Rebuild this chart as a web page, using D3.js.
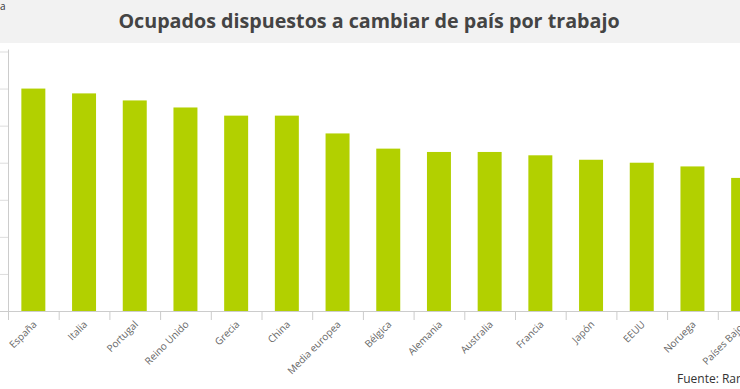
<!DOCTYPE html>
<html>
<head>
<meta charset="utf-8">
<script src="https://cdn.jsdelivr.net/npm/d3@7"></script>
<style>
  html, body { margin: 0; padding: 0; background: #fff; }
  svg { display: block; font-family: "Open Sans", sans-serif; }
</style>
</head>
<body>
<svg id="chart" width="740" height="389"></svg>
<script>
const countries = ["España", "Italia", "Portugal", "Reino Unido", "Grecia", "China", "Media europea",
    "Bélgica", "Alemania", "Australia", "Francia", "Japón", "EEUU", "Noruega", "Países Bajos"];
const values = [60.0, 58.7, 56.8, 54.9, 52.7, 52.7, 47.9, 43.8, 42.9, 42.9, 42.0, 40.8, 40.0, 39.0, 35.9];
const yTicks = [0, 10, 20, 30, 40, 50, 60, 70];

const svg = d3.select("#chart");
const width = +svg.attr("width");
const height = +svg.attr("height");

// header band
svg.append("rect")
    .attr("width", width)
    .attr("height", 43)
    .attr("fill", "#f2f2f2");

svg.append("text")
    .attr("x", 369)
    .attr("y", 28)
    .attr("text-anchor", "middle")
    .attr("font-size", 19.7)
    .attr("font-weight", "bold")
    .attr("fill", "#444")
    .text("Ocupados dispuestos a cambiar de país por trabajo");

// leftover of the cut y-axis title
svg.append("text")
    .attr("x", 0)
    .attr("y", 10)
    .attr("font-size", 10)
    .attr("fill", "#333")
    .text("a");

const x = d3.scaleBand()
    .domain(countries)
    .range([8, 8 + 50.7 * countries.length])
    .paddingInner(0.527)
    .paddingOuter(0.2635);

const y = d3.scaleLinear()
    .domain([0, 70])
    .range([311, 51.5]);

// y axis: line and ticks only (labels are cut off in the original)
const yAxis = svg.append("g")
    .attr("transform", "translate(8,0)")
    .call(d3.axisLeft(y).tickValues(yTicks).tickSize(8).tickFormat(""));
yAxis.select(".domain").attr("stroke", "#ccc").attr("d", `M0.5,${y(70) - 2}V${y(0)}`);
yAxis.selectAll(".tick line").attr("stroke", "#ddd");

svg.append("g")
    .selectAll("rect")
    .data(countries)
    .join("rect")
    .attr("x", (d) => x(d))
    .attr("y", (d, i) => y(values[i]))
    .attr("width", x.bandwidth())
    .attr("height", (d, i) => y(0) - y(values[i]))
    .attr("fill", "#b2d000");

// x axis with ticks between categories
const xAxisGroup = svg.append("g").attr("transform", `translate(0,${y(0)})`);
xAxisGroup.append("line")
    .attr("x1", 0).attr("x2", width)
    .attr("y1", 0.5).attr("y2", 0.5)
    .attr("stroke", "#ccc");
xAxisGroup.selectAll(".sep")
    .data(countries)
    .join("line")
    .attr("class", "sep")
    .attr("x1", (d) => x(d) - x.step() * x.paddingInner() / 2 + 0.5)
    .attr("x2", (d) => x(d) - x.step() * x.paddingInner() / 2 + 0.5)
    .attr("y1", 0)
    .attr("y2", 9)
    .attr("stroke", "#ccc");
xAxisGroup.selectAll(".lbl")
    .data(countries)
    .join("text")
    .attr("class", "lbl")
    .attr("text-anchor", "end")
    .attr("font-size", 10)
    .attr("fill", "#666")
    .attr("transform", (d) => `translate(${x(d) + x.bandwidth() / 2 + 4},${14}) rotate(-45)`)
    .text((d) => d);

svg.append("text")
    .attr("x", 677)
    .attr("y", 383)
    .attr("font-size", 12)
    .attr("fill", "#333")
    .text("Fuente: Randstad");
</script>
</body>
</html>
